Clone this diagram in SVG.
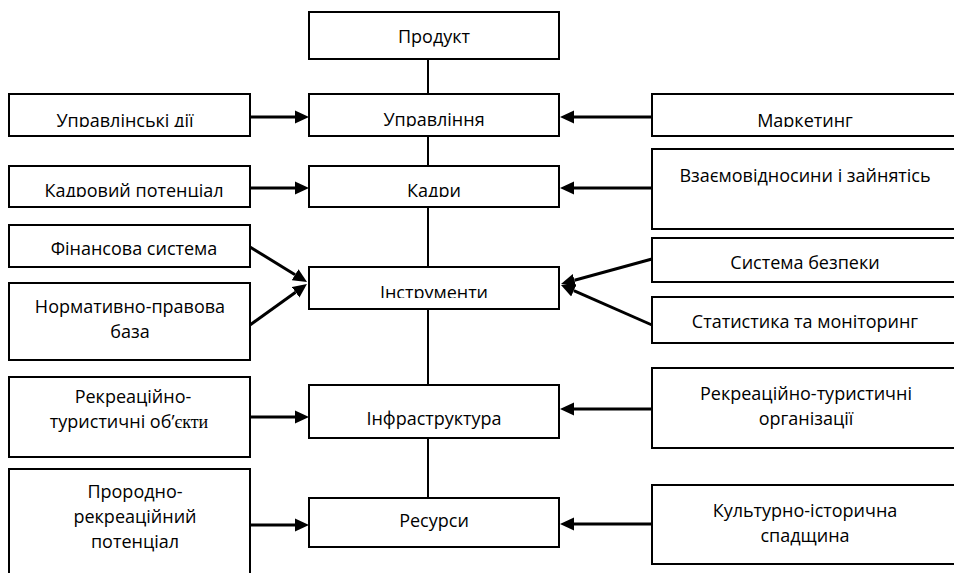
<svg xmlns="http://www.w3.org/2000/svg" width="954" height="573" viewBox="0 0 954 573">
<style>
  .box { fill: #fff; stroke: #000; stroke-width: 2; }
  .lbl { font-family: "Open Sans", "Noto Sans", sans-serif; font-size: 18px; fill: #000; text-anchor: middle; }
  .ser { font-family: "Liberation Serif", serif; }
  .link { stroke: #000; stroke-width: 2; fill: none; }
  .arr { stroke: #000; stroke-width: 3; fill: none; marker-end: url(#ah); }
</style>
<defs>
  <marker id="ah" viewBox="0 -7 14 14" markerWidth="14" markerHeight="14" refX="0" refY="0" orient="auto" markerUnits="userSpaceOnUse">
    <path d="M0,-6.5 L14,0 L0,6.5 z" fill="#000"/>
  </marker>
  <clipPath id="c1"><rect x="0" y="0" width="954" height="127"/></clipPath>
  <clipPath id="c2"><rect x="0" y="0" width="954" height="197"/></clipPath>
  <clipPath id="c3"><rect x="0" y="0" width="954" height="298"/></clipPath>
</defs>
<rect width="954" height="573" fill="#fff"/>

<g id="connectors">
  <line class="link" x1="428" y1="59" x2="428" y2="94"/>
  <line class="link" x1="428" y1="136" x2="428" y2="166"/>
  <line class="link" x1="428" y1="207" x2="428" y2="267"/>
  <line class="link" x1="428" y1="309" x2="428" y2="385"/>
  <line class="link" x1="428" y1="438" x2="428" y2="498"/>

  <line class="arr" x1="250" y1="117" x2="295" y2="117"/>
  <line class="arr" x1="652" y1="117" x2="574" y2="117"/>
  <line class="arr" x1="250" y1="188" x2="295" y2="188"/>
  <line class="arr" x1="652" y1="188" x2="574" y2="188"/>
  <line class="arr" x1="250" y1="247" x2="295.1" y2="274.7"/>
  <line class="arr" x1="250" y1="325" x2="295.6" y2="292.2"/>
  <line class="arr" x1="652" y1="259" x2="574.5" y2="280.3"/>
  <line class="arr" x1="652" y1="325" x2="573.8" y2="290.6"/>
  <line class="arr" x1="250" y1="417" x2="295" y2="417"/>
  <line class="arr" x1="652" y1="409" x2="574" y2="409"/>
  <line class="arr" x1="250" y1="525" x2="295" y2="525"/>
  <line class="arr" x1="652" y1="524" x2="574" y2="524"/>
</g>

<g id="n-product">
  <rect class="box" x="309" y="12" width="250" height="47"/>
  <text class="lbl" x="434" y="43">Продукт</text>
</g>
<g id="n-upravlinnia">
  <rect class="box" x="309" y="94" width="250" height="42"/>
  <text class="lbl" x="434" y="126" clip-path="url(#c1)">Управління</text>
</g>
<g id="n-kadry">
  <rect class="box" x="309" y="166" width="250" height="41"/>
  <text class="lbl" x="434" y="197" clip-path="url(#c2)">Кадри</text>
</g>
<g id="n-instrumenty">
  <rect class="box" x="309" y="267" width="250" height="42"/>
  <text class="lbl" x="434" y="299" clip-path="url(#c3)">Інструменти</text>
</g>
<g id="n-infrastruktura">
  <rect class="box" x="309" y="385" width="250" height="53"/>
  <text class="lbl" x="434" y="425">Інфраструктура</text>
</g>
<g id="n-resursy">
  <rect class="box" x="309" y="498" width="250" height="49"/>
  <text class="lbl" x="434" y="527">Ресурси</text>
</g>

<g id="n-upr-dii">
  <rect class="box" x="9" y="94" width="241" height="42"/>
  <text class="lbl" x="125" y="127" clip-path="url(#c1)">Управлінські дії</text>
</g>
<g id="n-kadr-potencial">
  <rect class="box" x="9" y="166" width="241" height="41"/>
  <text class="lbl" x="134" y="197" clip-path="url(#c2)">Кадровий потенціал</text>
</g>
<g id="n-finansova">
  <rect class="box" x="9" y="225" width="241" height="42"/>
  <text class="lbl" x="134" y="255">Фінансова система</text>
</g>
<g id="n-normatyvno">
  <rect class="box" x="9" y="283" width="241" height="77"/>
  <text class="lbl" x="130" y="313">Нормативно-правова</text>
  <text class="lbl" x="130" y="338">база</text>
</g>
<g id="n-rekr-obekty">
  <rect class="box" x="9" y="377" width="241" height="80"/>
  <text class="lbl" x="133" y="403">Рекреаційно-</text>
  <text class="lbl" x="129" y="428">туристичні об’<tspan class="ser">єкти</tspan></text>
</g>
<g id="n-pryrodno">
  <rect class="box" x="9" y="469" width="241" height="120"/>
  <text class="lbl" x="135" y="498">Прородно-</text>
  <text class="lbl" x="135" y="523">рекреаційний</text>
  <text class="lbl" x="135" y="548">потенціал</text>
</g>

<g id="n-marketynh">
  <rect class="box" x="652" y="94" width="320" height="42"/>
  <text class="lbl" x="805" y="127" clip-path="url(#c1)">Маркетинг</text>
</g>
<g id="n-vzaiemo">
  <rect class="box" x="652" y="149" width="320" height="80"/>
  <text class="lbl" x="805" y="182">Взаємовідносини і зайнятісь</text>
</g>
<g id="n-bezpeka">
  <rect class="box" x="652" y="238" width="320" height="44"/>
  <text class="lbl" x="805" y="269">Система безпеки</text>
</g>
<g id="n-statystyka">
  <rect class="box" x="652" y="297" width="320" height="46"/>
  <text class="lbl" x="805" y="328">Статистика та моніторинг</text>
</g>
<g id="n-rekr-org">
  <rect class="box" x="652" y="368" width="320" height="80"/>
  <text class="lbl" x="806" y="400">Рекреаційно-туристичні</text>
  <text class="lbl" x="806" y="425">організації</text>
</g>
<g id="n-kultura">
  <rect class="box" x="652" y="485" width="320" height="79"/>
  <text class="lbl" x="805" y="517">Культурно-історична</text>
  <text class="lbl" x="805" y="542">спадщина</text>
</g>
</svg>
